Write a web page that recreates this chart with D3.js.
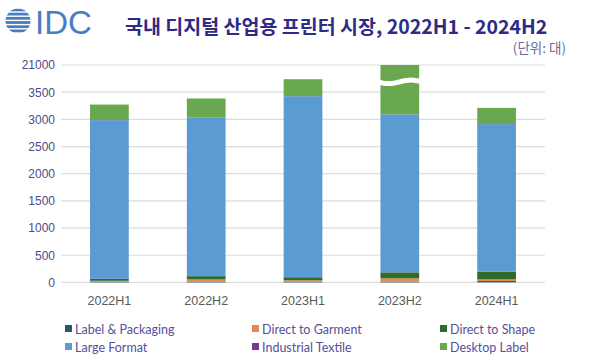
<!DOCTYPE html>
<html>
<head>
<meta charset="utf-8">
<script src="https://cdn.jsdelivr.net/npm/d3@7"></script>
<style>
  body { margin: 0; background: #fff; }
  svg { display: block; font-family: 'Noto Sans', sans-serif; }
</style>
</head>
<body>
<div id="chart"></div>
<script>
// data
const periods = ['2022H1', '2022H2', '2023H1', '2023H2', '2024H1']
const labelPackaging = [15, 15, 15, 15, 25]
const directGarment = [15, 40, 25, 60, 30]
const directShape = [35, 60, 55, 110, 140]
const largeFormat = [2920, 2920, 3330, 2905, 2717]
const industrialTextile = [2, 3, 2, 3, 2]
const desktopLabel = [285, 346, 311, 17900, 297]
const yTicks = [0, 500, 1000, 1500, 2000, 2500, 3000, 3500, 21000]

const seriesNames = ['Label & Packaging', 'Direct to Garment', 'Direct to Shape',
  'Large Format', 'Industrial Textile', 'Desktop Label']
const seriesValues = [labelPackaging, directGarment, directShape,
  largeFormat, industrialTextile, desktopLabel]
const colors = ['#2b5670', '#e58a4e', '#2f6b2c', '#5b9bd3', '#7d3590', '#6aa84f']

const W = 600, H = 364
const svg = d3.select('#chart').append('svg').attr('width', W).attr('height', H)

const rows = periods.map((p, i) => {
  const r = { period: p }
  seriesNames.forEach((s, j) => { r[s] = seriesValues[j][i] })
  return r
})
const stacked = d3.stack().keys(seriesNames)(rows)

const plot = { left: 61, right: 545, top: 65, bottom: 282.4 }
const x = d3.scaleBand().domain(periods).range([plot.left, plot.right]).paddingInner(0.6).paddingOuter(0.3)
// broken axis: above 3800 everything is squeezed into the last bit
const lin = d3.scaleLinear().domain([0, 4000]).range([plot.bottom, plot.top])
const y = d3.scaleLinear().domain([0, 3800, 21000]).range([plot.bottom, lin(3800), plot.top])

// gridlines
svg.append('g').selectAll('line').data(yTicks).join('line')
  .attr('x1', plot.left).attr('x2', plot.right)
  .attr('y1', d => y(d)).attr('y2', d => y(d))
  .attr('stroke', '#dcdcdc').attr('stroke-width', 1.2)

// y axis labels
const yAxis = d3.axisLeft(y).tickValues(yTicks).tickSize(0).tickPadding(6).tickFormat(d3.format('d'))
svg.append('g').attr('transform', `translate(${plot.left},0)`).call(yAxis)
  .call(g => g.select('.domain').remove())
  .selectAll('text').attr('fill', '#4b4a8e').attr('font-size', 12).attr('font-family', 'Liberation Sans, Arial, sans-serif')

// bars
svg.append('g').selectAll('g').data(stacked).join('g')
  .attr('fill', (d, i) => colors[i])
  .selectAll('rect').data(d => d).join('rect')
  .attr('x', d => x(d.data.period))
  .attr('width', x.bandwidth())
  .attr('y', d => y(d[1]))
  .attr('height', d => Math.max(0, y(d[0]) - y(d[1])))

// break mark on the tall bar
const tall = periods[d3.maxIndex(desktopLabel)]
const bx0 = x(tall) - 3, bx1 = x(tall) + x.bandwidth() + 3
const yb = y(3690)
const wave = d3.range(0, 1.0001, 0.05).map(t => [bx0 + t * (bx1 - bx0), yb + 1.8 * Math.sin(t * Math.PI * 2)])
const waveLine = d3.line().curve(d3.curveBasis)
svg.append('path')
  .attr('d', waveLine(wave))
  .attr('fill', 'none').attr('stroke', '#fff').attr('stroke-width', 5)

// x axis labels
const xAxis = d3.axisBottom(x).tickSize(0).tickPadding(14)
svg.append('g').attr('transform', `translate(0,${plot.bottom})`).call(xAxis)
  .call(g => g.select('.domain').remove())
  .selectAll('text').attr('fill', '#595959').attr('font-size', 12.5).attr('font-family', 'Liberation Sans, Arial, sans-serif')

// legend
const legendCols = [65, 252, 440], legendRows = [329, 347]
const legend = svg.append('g').selectAll('g').data(seriesNames).join('g')
  .attr('transform', (d, i) => `translate(${legendCols[i % 3]},${legendRows[Math.floor(i / 3)]})`)
legend.append('rect').attr('x', 0).attr('y', -4).attr('width', 7).attr('height', 7)
  .attr('fill', (d, i) => colors[i])
legend.append('text').attr('x', 10).attr('y', 4.5).text(d => d)
  .attr('fill', '#56509a').attr('font-size', 12.5).attr('font-family', 'Lato, sans-serif')

// IDC logo
const logo = svg.append('g')
const clip = svg.append('clipPath').attr('id', 'globe')
clip.append('circle').attr('cx', 18).attr('cy', 21).attr('r', 12.5)
logo.append('g').attr('clip-path', 'url(#globe)')
  .selectAll('rect').data(d3.range(6)).join('rect')
  .attr('x', 5).attr('width', 26)
  .attr('y', d => 8.5 + d * 4.2).attr('height', 2.8)
  .attr('fill', '#4a7dbf')
logo.append('text').attr('x', 35).attr('y', 33.5).text('IDC')
  .attr('fill', '#4a7dbf').attr('font-size', 33).attr('font-family', 'Liberation Sans, Arial, sans-serif')

// title
svg.append('text').attr('x', 125).attr('y', 34)
  .text('국내 디지털 산업용 프린터 시장, 2022H1 - 2024H2')
  .attr('fill', '#2e2b86').attr('font-size', 19.5).attr('font-weight', 'bold')
  .attr('font-family', "'Noto Sans CJK KR', sans-serif")
svg.append('text').attr('x', 566).attr('y', 53).attr('text-anchor', 'end')
  .text('(단위: 대)')
  .attr('fill', '#6b6b9e').attr('font-size', 13.5)
  .attr('font-family', "'Noto Sans CJK KR', sans-serif")
</script>
</body>
</html>
